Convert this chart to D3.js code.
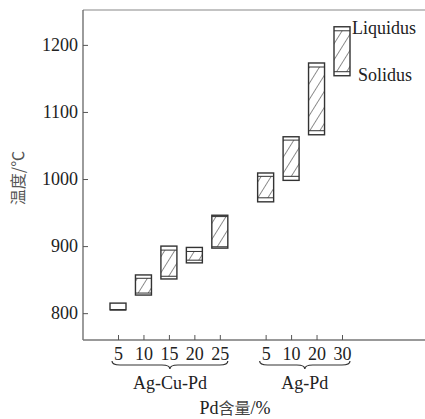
<!DOCTYPE html>
<html>
<head>
<meta charset="utf-8">
<script src="https://cdn.jsdelivr.net/npm/d3@7"></script>
<style>
  body { margin: 0; background: #fff; }
  svg { display: block; }
  .serif { font-family: "Liberation Serif", "DejaVu Serif", serif; }
</style>
</head>
<body>
<div id="chart"></div>
<script>
// groups and the Pd content of each alloy
var groups = ["Ag-Cu-Pd", "Ag-Pd"];
var groupOf = [0, 0, 0, 0, 0, 1, 1, 1, 1];
var pdLabels = ["5", "10", "15", "20", "25", "5", "10", "20", "30"];
// liquidus band (top) and solidus band (bottom), °C
var liqHigh = [815, 857, 900, 898, 946, 1009, 1063, 1173, 1227];
var liqLow  = [805, 852, 894, 892, 944, 1004, 1058, 1167, 1221];
var solHigh = [805, 830, 855, 879, 899, 972, 1004, 1072, 1160];
var solLow  = [805, 827, 851, 875, 897, 966, 998, 1066, 1154];
var yTicks = [800, 900, 1000, 1100, 1200];

var W = 425, H = 419;
var plotLeft = 83, plotTop = 10, plotBottom = 340;

var svg = d3.select("#chart").append("svg")
  .attr("width", W)
  .attr("height", H);

var defs = svg.append("defs");
defs.append("pattern")
  .attr("id", "hatch")
  .attr("patternUnits", "userSpaceOnUse")
  .attr("width", 8.5)
  .attr("height", 20)
  .attr("patternTransform", "rotate(32)")
  .append("line")
  .attr("x1", 0).attr("y1", 0)
  .attr("x2", 0).attr("y2", 20)
  .attr("stroke", "#333")
  .attr("stroke-width", 1.1);

// slot position: index plus a gap between groups
var slot = pdLabels.map(function(d, i) { return i + groupOf[i] * 0.8; });

var x = d3.scaleLinear().domain([0, 8.8]).range([118, 342]);
var y = d3.scaleLinear().domain([760, 1252]).range([plotBottom, plotTop]);

// frame lines
svg.append("line").attr("x1", plotLeft).attr("x2", W).attr("y1", plotTop).attr("y2", plotTop)
  .attr("stroke", "#888").attr("stroke-width", 1.2);
svg.append("line").attr("x1", plotLeft).attr("x2", plotLeft).attr("y1", plotTop).attr("y2", plotBottom)
  .attr("stroke", "#666").attr("stroke-width", 1.3);
svg.append("line").attr("x1", plotLeft).attr("x2", W).attr("y1", plotBottom).attr("y2", plotBottom)
  .attr("stroke", "#777").attr("stroke-width", 1.3);

// y axis
var yAxis = d3.axisLeft(y).tickValues(yTicks).tickFormat(d3.format("d"))
  .tickSizeInner(-5).tickSizeOuter(0).tickPadding(5);
var gy = svg.append("g")
  .attr("transform", "translate(" + plotLeft + ",0)")
  .call(yAxis);
gy.select(".domain").remove();
gy.selectAll("line").attr("stroke", "#555");
gy.selectAll("text").attr("class", "serif").style("font-size", "18px").attr("fill", "#222");

// x axis
var xAxis = d3.axisBottom(x).tickValues(slot)
  .tickFormat(function(d, i) { return pdLabels[i]; })
  .tickSizeInner(-5).tickSizeOuter(0).tickPadding(7);
var gx = svg.append("g")
  .attr("transform", "translate(0," + plotBottom + ")")
  .call(xAxis);
gx.select(".domain").remove();
gx.selectAll("line").attr("stroke", "#555");
gx.selectAll("text").attr("class", "serif").style("font-size", "18px").attr("fill", "#222");

// boxes
var bw = 16;
var box = svg.append("g").selectAll("g")
  .data(pdLabels)
  .enter()
  .append("g");

box.append("rect")
  .attr("x", function(d, i) { return x(slot[i]) - bw / 2; })
  .attr("y", function(d, i) { return y(liqLow[i]); })
  .attr("width", bw)
  .attr("height", function(d, i) { return y(solHigh[i]) - y(liqLow[i]); })
  .attr("fill", "url(#hatch)");

box.append("rect")
  .attr("x", function(d, i) { return x(slot[i]) - bw / 2; })
  .attr("y", function(d, i) { return y(liqHigh[i]); })
  .attr("width", bw)
  .attr("height", function(d, i) { return y(solLow[i]) - y(liqHigh[i]); })
  .attr("fill", "none")
  .attr("stroke", "#333")
  .attr("stroke-width", 1.4);

box.append("line")
  .attr("x1", function(d, i) { return x(slot[i]) - bw / 2; })
  .attr("x2", function(d, i) { return x(slot[i]) + bw / 2; })
  .attr("y1", function(d, i) { return y(liqLow[i]); })
  .attr("y2", function(d, i) { return y(liqLow[i]); })
  .attr("stroke", "#333").attr("stroke-width", 1);

box.append("line")
  .attr("x1", function(d, i) { return x(slot[i]) - bw / 2; })
  .attr("x2", function(d, i) { return x(slot[i]) + bw / 2; })
  .attr("y1", function(d, i) { return y(solHigh[i]); })
  .attr("y2", function(d, i) { return y(solHigh[i]); })
  .attr("stroke", "#333").attr("stroke-width", 1);

// Liquidus / Solidus labels next to the last box
var last = pdLabels.length - 1;
svg.append("text").attr("class", "serif")
  .attr("x", x(slot[last]) + bw / 2 + 2)
  .attr("y", y(liqHigh[last]) + 7)
  .style("font-size", "18px").attr("fill", "#222")
  .text("Liquidus");
svg.append("text").attr("class", "serif")
  .attr("x", x(slot[last]) + bw / 2 + 8)
  .attr("y", y(solLow[last]) + 5)
  .style("font-size", "18px").attr("fill", "#222")
  .text("Solidus");

// group braces
function brace(x1, x2, yb, h) {
  var mid = (x1 + x2) / 2, ym = yb + h / 2;
  return "M" + x1 + "," + yb +
    "Q" + x1 + "," + ym + " " + (x1 + h) + "," + ym +
    "L" + (mid - h) + "," + ym +
    "Q" + mid + "," + ym + " " + mid + "," + (yb + h) +
    "Q" + mid + "," + ym + " " + (mid + h) + "," + ym +
    "L" + (x2 - h) + "," + ym +
    "Q" + x2 + "," + ym + " " + x2 + "," + yb;
}

groups.forEach(function(g, gi) {
  var idx = d3.range(pdLabels.length).filter(function(i) { return groupOf[i] === gi; });
  var x1 = x(slot[idx[0]]) - 6, x2 = x(slot[idx[idx.length - 1]]) + 8;
  svg.append("path")
    .attr("d", brace(x1, x2, 361, 8))
    .attr("fill", "none")
    .attr("stroke", "#333")
    .attr("stroke-width", 1.2);
  svg.append("text").attr("class", "serif")
    .attr("x", (x1 + x2) / 2)
    .attr("y", 389)
    .attr("text-anchor", "middle")
    .style("font-size", "18px").attr("fill", "#222")
    .text(g);
});

// axis titles
var xt = svg.append("text")
  .attr("x", 235)
  .attr("y", 414)
  .attr("text-anchor", "middle")
  .style("font-size", "18px").attr("fill", "#222");
xt.append("tspan").attr("class", "serif").text("Pd");
xt.append("tspan").style("font-family", "'Noto Sans CJK SC', sans-serif").style("font-size", "16px").attr("fill", "#444").text("含量");
xt.append("tspan").attr("class", "serif").text("/%");

svg.append("text")
  .attr("transform", "translate(24,178) rotate(-90)")
  .attr("text-anchor", "middle")
  .style("font-family", "'Noto Sans CJK SC', sans-serif")
  .style("font-size", "16px")
  .attr("fill", "#555")
  .text("温度/℃");
</script>
</body>
</html>
